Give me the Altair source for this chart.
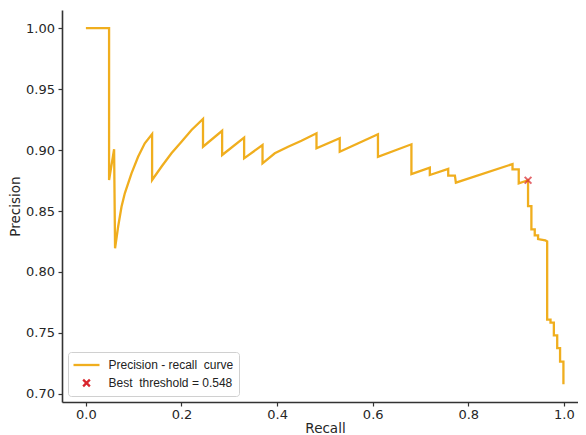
import altair as alt
import pandas as pd

# Precision-recall curve points (in drawing order)
recall = [0.0, 0.0485, 0.0485, 0.059, 0.061, 0.0674, 0.0745, 0.0814, 0.0954,
          0.1092, 0.1232, 0.1385, 0.1385, 0.158, 0.179, 0.200, 0.221, 0.245,
          0.245, 0.285, 0.285, 0.331, 0.331, 0.3695, 0.3695, 0.3952, 0.423,
          0.451, 0.4824, 0.4824, 0.531, 0.531, 0.611, 0.611, 0.681, 0.681,
          0.7195, 0.7195, 0.758, 0.758, 0.772, 0.774, 0.8925, 0.8925, 0.9055,
          0.9055, 0.925, 0.925, 0.932, 0.932, 0.939, 0.939, 0.946, 0.946,
          0.961, 0.965, 0.965, 0.972, 0.972, 0.979, 0.979, 0.986, 0.986,
          0.992, 0.992, 0.999, 0.999]
precision = [1.0, 1.0, 0.8754, 0.9006, 0.8194, 0.8371, 0.8535, 0.8645, 0.8809,
             0.8945, 0.9055, 0.9131, 0.8754, 0.8863, 0.8973, 0.9068, 0.9164, 0.9254,
             0.9027, 0.9158, 0.8959, 0.9101, 0.8932, 0.9041, 0.8891, 0.8973, 0.9027,
             0.9076, 0.9137, 0.9014, 0.9096, 0.8986, 0.9129, 0.8945, 0.9047, 0.8803,
             0.8855, 0.8795, 0.8846, 0.8790, 0.8790, 0.8732, 0.8885, 0.8842, 0.8842,
             0.8727, 0.8752, 0.854, 0.854, 0.835, 0.835, 0.830, 0.830, 0.827,
             0.826, 0.825, 0.761, 0.761, 0.7585, 0.7585, 0.748, 0.748, 0.7375,
             0.7375, 0.7265, 0.7265, 0.708]

best_recall = [0.925]
best_precision = [0.8752]

NB = "\u00a0"
legend_labels = ["Precision - recall " + NB + "curve", "Best " + NB + "threshold = 0.548"]
legend_colors = ["#F0AE1E", "#D9262E"]

x_ticks = [0.0, 0.2, 0.4, 0.6, 0.8, 1.0]
y_ticks = [0.70, 0.75, 0.80, 0.85, 0.90, 0.95, 1.00]

curve = pd.DataFrame({"recall": recall, "precision": precision,
                      "order": list(range(len(recall)))})
best = pd.DataFrame({"recall": best_recall, "precision": best_precision})
leg = pd.DataFrame({"series": legend_labels})

xscale = alt.Scale(domain=[-0.05, 1.0295], nice=False, zero=False)
yscale = alt.Scale(domain=[0.6934, 1.0148], nice=False, zero=False)

xaxis = alt.Axis(values=x_ticks, format=".1f", title="Recall", titleX=263)
yaxis = alt.Axis(values=y_ticks, format=".2f", title="Precision")

line = alt.Chart(curve).mark_line(color=legend_colors[0], strokeWidth=2.3,
                                  strokeJoin="miter", clip=True).encode(
    x=alt.X("recall:Q", scale=xscale, axis=xaxis),
    y=alt.Y("precision:Q", scale=yscale, axis=yaxis),
    order="order:Q",
)

xmark = "M-1,-1L1,1M-1,1L1,-1"
linemark = "M-2,0L2,0"
marker = alt.Chart(best).mark_point(shape=xmark, size=45, filled=False,
                                    color=legend_colors[1], strokeWidth=2).encode(
    x=alt.X("recall:Q", scale=xscale),
    y=alt.Y("precision:Q", scale=yscale),
)

lg = alt.Legend(title=None, orient="bottom-left", symbolOpacity=1)
legend_layer = alt.Chart(leg).mark_point(filled=False, strokeWidth=2.3).encode(
    color=alt.Color("series:N", scale=alt.Scale(domain=legend_labels, range=legend_colors),
                    legend=lg),
    shape=alt.Shape("series:N", scale=alt.Scale(domain=legend_labels, range=[linemark, xmark]),
                    legend=lg),
    size=alt.Size("series:N", scale=alt.Scale(domain=legend_labels, range=[169, 45]),
                  legend=lg),
    opacity=alt.value(0),
)

chart = alt.layer(line, marker, legend_layer).properties(
    width=516, height=392,
    padding={"left": 54, "top": 2, "right": 0, "bottom": 36},
    autosize=alt.AutoSizeParams(type="none"),
).configure_view(stroke=None).configure_axis(
    grid=False,
    domainColor="#333333", domainWidth=1.6,
    tickColor="#333333", tickWidth=1.2, tickSize=4,
    labelFont="DejaVu Sans", labelFontSize=13, labelColor="#262626",
    titleFont="DejaVu Sans", titleFontSize=13.5, titleFontWeight="normal", titleColor="#262626",
).configure_axisX(labelPadding=2, titlePadding=0).configure_axisY(
    labelPadding=3.5, titlePadding=3
).configure_legend(
    labelFont="Liberation Sans", labelFontSize=12, labelColor="#222222",
    strokeColor="#d0d0d0", cornerRadius=3, padding=5, offset=6,
    rowPadding=4, symbolStrokeWidth=2.3, fillColor="white",
    symbolOffset=5.5, labelOffset=14,
)

chart.save("out.html", embed_options={"renderer": "svg", "actions": False})
